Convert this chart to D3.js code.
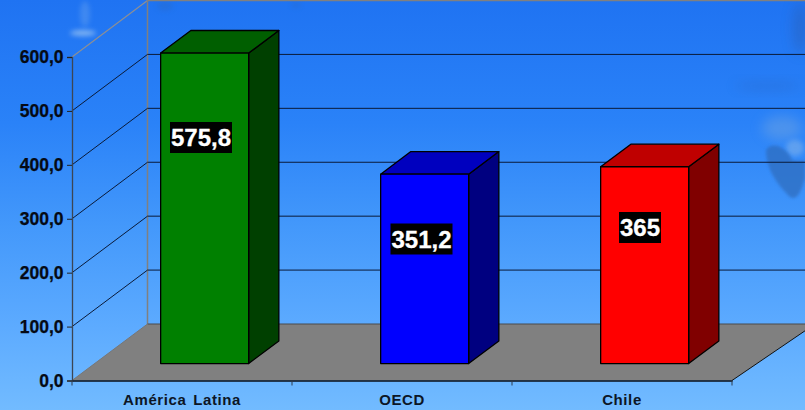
<!DOCTYPE html>
<html><head><meta charset="utf-8">
<script src="https://cdn.jsdelivr.net/npm/d3@7"></script>
<style>html,body{margin:0;padding:0;background:#4a9cff}svg{display:block}
text{font-family:"Liberation Sans",Arial,sans-serif;font-weight:bold}</style></head>
<body><svg id="c" width="805" height="410"></svg>
<script>
const categories = ["América Latina","OECD","Chile"];
const values = [575.8,351.2,365];
const valueLabels = ["575,8","351,2","365"];
const tickValues = [0,100,200,300,400,500,600];
const frontColors = ["#008000","#0000ff","#ff0000"];
const topColors = ["#005f00","#0000bf","#bf0000"];
const sideColors = ["#004000","#000080","#800000"];

const svg = d3.select("#c");
const W=805,H=410;
const y = d3.scaleLinear().domain([0,600]).range([380.5,57]);
const x = d3.scaleBand().domain(categories).range([72,732]).paddingInner(0).paddingOuter(0);
const DX=75.5, DY=-56.5;
const barW = x.bandwidth()*0.4;
const dNear=0.30, dFar=0.70;
const P=(px,py,d)=>[px+DX*d,py+DY*d];
const poly=(pts)=>pts.map(p=>p.join(",")).join(" ");

const defs=svg.append("defs");
const g=defs.append("linearGradient").attr("id","bg").attr("x1",0).attr("y1",0).attr("x2",0).attr("y2",1);
[[0,"#1f73f2"],[0.3,"#2a82f8"],[0.55,"#4398fb"],[0.8,"#5dabff"],[1,"#72bbff"]].forEach(s=>g.append("stop").attr("offset",s[0]).attr("stop-color",s[1]));
const blur=(id,s)=>defs.append("filter").attr("id",id).attr("x","-100%").attr("y","-100%").attr("width","300%").attr("height","300%").append("feGaussianBlur").attr("stdDeviation",s);
blur("b1",6);blur("b2",2.5);blur("b3",1.5);
svg.append("rect").attr("width",W).attr("height",H).attr("fill","url(#bg)");

// soft background picture
const deco=svg.append("g");
const blob=(cx,cy,rx,ry,fill,op,f)=>deco.append("ellipse").attr("cx",cx).attr("cy",cy).attr("rx",rx).attr("ry",ry).attr("fill",fill).attr("opacity",op).attr("filter",`url(#${f})`);
blob(83,33,13,3,"#a9cdf2",.7,"b2");
blob(85,14,5,13,"#79aeee",.35,"b2");
blob(165,6,8,5,"#2b66b8",.3,"b2");
blob(296,5,5,3,"#2b66b8",.3,"b2");
blob(800,28,7,26,"#2a5fb4",.5,"b1");
blob(768,86,34,4,"#2a5fb4",.3,"b1");
blob(782,128,20,12,"#6da3e2",.5,"b1");
blob(795,148,9,8,"#7eb0ea",.6,"b2");
deco.append("path").attr("d","M766 150 C772 140 788 148 792 160 C800 162 805 160 805 160 L805 178 C800 196 796 200 790 197 C778 185 766 170 766 150Z").attr("fill","#2f6cbc").attr("opacity",.7).attr("filter","url(#b3)");

// walls
const gray="#808080";
svg.append("polygon").attr("points",poly([[72,y(0)],P(72,y(0),1),[W+10,y(0)+DY],[x.range()[1],y(0)]])).attr("fill","#808080");
svg.append("line").attr("x1",72).attr("y1",y(600)).attr("x2",72+DX).attr("y2",y(600)+DY).attr("stroke","#8c8f96").attr("stroke-width",1.2);
svg.append("line").attr("x1",72+DX).attr("y1",y(600)+DY).attr("x2",W).attr("y2",y(600)+DY).attr("stroke",gray).attr("stroke-width",1.5);
svg.append("line").attr("x1",72+DX).attr("y1",y(600)+DY).attr("x2",72+DX).attr("y2",y(0)+DY).attr("stroke",gray).attr("stroke-width",1.5);

// gridlines
tickValues.filter(t=>t>0&&t<600).forEach(t=>{
  svg.append("polyline").attr("points",poly([[72,y(t)],P(72,y(t),1),[W,y(t)+DY]])).attr("fill","none").attr("stroke","#0a1a38").attr("stroke-width",1);
});
svg.append("line").attr("x1",72+DX).attr("y1",y(0)+DY).attr("x2",W).attr("y2",y(0)+DY).attr("stroke","#4a4a4a").attr("stroke-width",1.2);
svg.append("line").attr("x1",x.range()[1]).attr("y1",y(0)).attr("x2",W+10).attr("y2",y(0)+DY).attr("stroke","#111").attr("stroke-width",1);
svg.append("line").attr("x1",72).attr("y1",y(0)).attr("x2",72+DX).attr("y2",y(0)+DY).attr("stroke","#777").attr("stroke-width",1);

// axes
const yAxis=svg.append("g").attr("transform","translate(72,0)").call(d3.axisLeft(y).tickValues(tickValues).tickSize(5).tickFormat(d=>d3.format(".1f")(d).replace(".",",")));
yAxis.select(".domain").attr("stroke","#3c4654").attr("stroke-width",1.3);
yAxis.selectAll("line").attr("stroke","#222");
yAxis.selectAll("text").attr("x",-8.5).attr("font-size",17.5).attr("fill","#050a14").attr("stroke","#050a14").attr("stroke-width",0.25).attr("font-family",'"Liberation Sans",Arial,sans-serif').attr("font-weight","bold");
const xAxis=svg.append("g").attr("transform",`translate(0,${y(0)})`).call(d3.axisBottom(x).tickValues([]).tickSizeOuter(0));
xAxis.select(".domain").attr("stroke","#0a0f18").attr("stroke-width",1.3);
[0,1,2,3].forEach(i=>{const tx=72+i*x.bandwidth();
  svg.append("line").attr("x1",tx).attr("x2",tx).attr("y1",y(0)).attr("y2",y(0)+5).attr("stroke","#2c3a4c").attr("stroke-width",1);});
categories.forEach(c=>{
  svg.append("text").attr("x",x(c)+x.bandwidth()/2).attr("y",405).attr("text-anchor","middle").attr("font-size",15).attr("letter-spacing",0.6).attr("word-spacing",2).attr("fill","#0c1626").text(c);
});

// bars
categories.forEach((c,i)=>{
  const x0=x(c)+(x.bandwidth()-barW)/2, x1=x0+barW, v=values[i];
  const top=y(v), bot=y(0);
  const G=svg.append("g").attr("stroke","#000").attr("stroke-width",1.3).attr("stroke-linejoin","round");
  G.append("polygon").attr("points",poly([P(x1,bot,dNear),P(x1,bot,dFar),P(x1,top,dFar),P(x1,top,dNear)])).attr("fill",sideColors[i]);
  G.append("polygon").attr("points",poly([P(x0,top,dNear),P(x1,top,dNear),P(x1,top,dFar),P(x0,top,dFar)])).attr("fill",topColors[i]);
  G.append("polygon").attr("points",poly([P(x0,bot,dNear),P(x1,bot,dNear),P(x1,top,dNear),P(x0,top,dNear)])).attr("fill",frontColors[i]);
});

// data labels
const labelCentre=[[201,137.5],[421.5,239],[640,227.5]];
const labelW=[62,62,42];
categories.forEach((c,i)=>{
  const [cx,cy]=labelCentre[i];
  svg.append("rect").attr("x",cx-labelW[i]/2).attr("y",cy-15.5).attr("width",labelW[i]).attr("height",31).attr("fill","#000");
  svg.append("text").attr("x",cx).attr("y",cy+8.5).attr("text-anchor","middle").attr("font-size",24).attr("fill","#fff").attr("stroke","#fff").attr("stroke-width",0.3).text(valueLabels[i]);
});
</script></body></html>
